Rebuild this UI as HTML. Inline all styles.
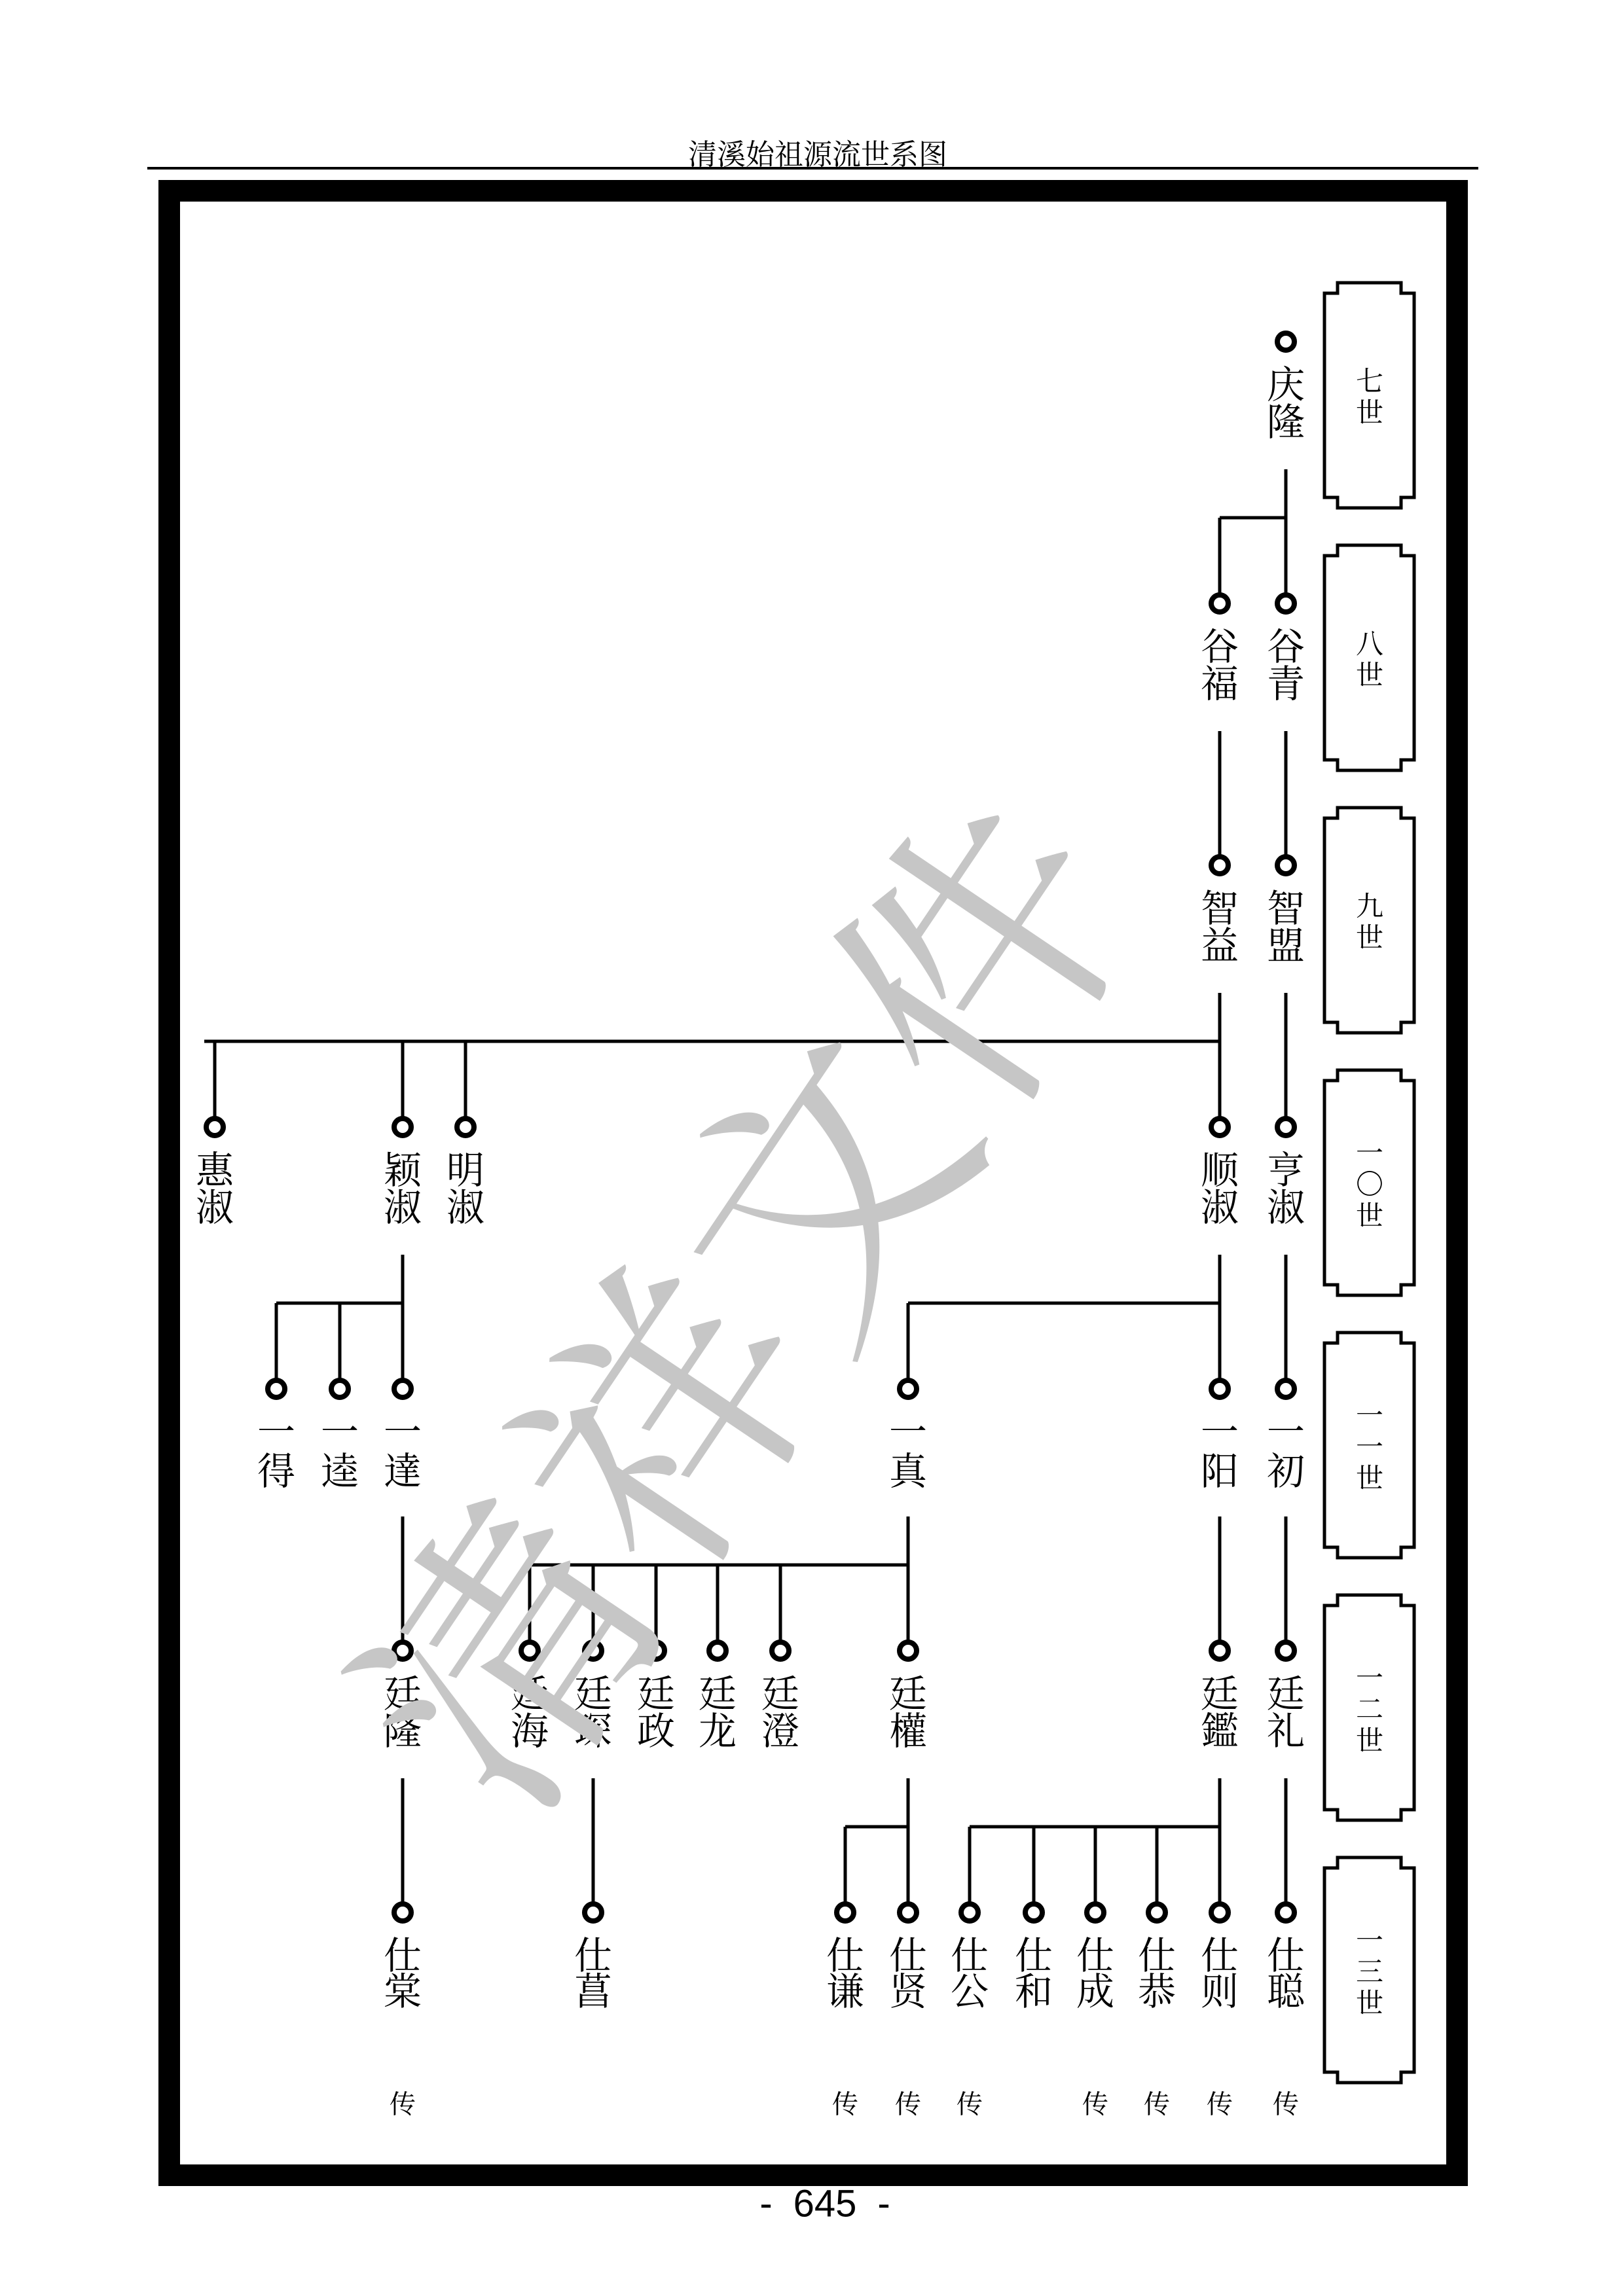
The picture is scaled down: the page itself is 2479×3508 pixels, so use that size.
<!DOCTYPE html>
<html><head><meta charset="utf-8">
<style>
html,body{margin:0;padding:0;background:#fff;}
svg{display:block;}
.n{font-family:"Noto Serif CJK SC","Liberation Serif",serif;font-size:58px;fill:#000;}
.g{font-family:"Noto Serif CJK SC","Liberation Serif",serif;font-size:42px;fill:#000;}
.c{font-family:"Noto Serif CJK SC","Liberation Serif",serif;font-size:40px;fill:#000;}
</style></head>
<body>
<svg width="2479" height="3508" viewBox="0 0 2479 3508" xmlns="http://www.w3.org/2000/svg">
<rect width="2479" height="3508" fill="#fff"/>
<text x="1249" y="232" text-anchor="middle" dominant-baseline="central" style="font-family:'Noto Serif CJK SC','Liberation Serif',serif;font-size:44px">清溪始祖源流世系图</text>
<line x1="225" y1="257" x2="2258" y2="257" stroke="#000" stroke-width="4"/>
<rect x="258.5" y="291.5" width="1967" height="3032" fill="none" stroke="#000" stroke-width="33"/>

<g fill="none" stroke="#000" stroke-width="5">
<path d="M2043,432 H2140 V448 H2160 V760 H2140 V776 H2043 V760 H2023 V448 H2043 Z"/>
<path d="M2043,833 H2140 V849 H2160 V1161 H2140 V1177 H2043 V1161 H2023 V849 H2043 Z"/>
<path d="M2043,1234 H2140 V1250 H2160 V1562 H2140 V1578 H2043 V1562 H2023 V1250 H2043 Z"/>
<path d="M2043,1635 H2140 V1651 H2160 V1963 H2140 V1979 H2043 V1963 H2023 V1651 H2043 Z"/>
<path d="M2043,2036 H2140 V2052 H2160 V2364 H2140 V2380 H2043 V2364 H2023 V2052 H2043 Z"/>
<path d="M2043,2437 H2140 V2453 H2160 V2765 H2140 V2781 H2043 V2765 H2023 V2453 H2043 Z"/>
<path d="M2043,2838 H2140 V2854 H2160 V3166 H2140 V3182 H2043 V3166 H2023 V2854 H2043 Z"/>
</g>
<g class="g" text-anchor="middle" dominant-baseline="central">
<text x="2092" y="580">七</text><text x="2092" y="628">世</text>
<text x="2092" y="981">八</text><text x="2092" y="1029">世</text>
<text x="2092" y="1382">九</text><text x="2092" y="1430">世</text>
<text x="2092" y="1759">一</text><text x="2092" y="1807">〇</text><text x="2092" y="1855">世</text>
<text x="2092" y="2160">一</text><text x="2092" y="2208">一</text><text x="2092" y="2256">世</text>
<text x="2092" y="2561">一</text><text x="2092" y="2609">二</text><text x="2092" y="2657">世</text>
<text x="2092" y="2962">一</text><text x="2092" y="3010">三</text><text x="2092" y="3058">世</text>
</g>

<g stroke="#000" stroke-width="5" fill="none">
<path d="M1964,717 V907 M1863,791 H1964 M1863,791 V907"/>
<path d="M1964,1117 V1307 M1863,1117 V1307"/>
<path d="M1964,1517 V1707 M1863,1517 V1707 M312,1591 H1863 M711,1591 V1707 M615,1591 V1707 M328,1591 V1707"/>
<path d="M1964,1917 V2107 M1863,1917 V2107 M1387,1991 H1863 M1387,1991 V2107 M615,1917 V2107 M422,1991 H615 M519,1991 V2107 M422,1991 V2107"/>
<path d="M1964,2317 V2507 M1863,2317 V2507 M615,2317 V2507 M1387,2317 V2507 M809,2391 H1387 M1192,2391 V2507 M1096,2391 V2507 M1002,2391 V2507 M906,2391 V2507 M809,2391 V2507"/>
<path d="M1964,2717 V2907 M906,2717 V2907 M615,2717 V2907 M1863,2717 V2907 M1481,2791 H1863 M1767,2791 V2907 M1673,2791 V2907 M1579,2791 V2907 M1481,2791 V2907 M1387,2717 V2907 M1291,2791 H1387 M1291,2791 V2907"/>
</g>

<g fill="#fff" stroke="#000" stroke-width="8">
<circle cx="1964" cy="522" r="13"/>
<circle cx="1964" cy="922" r="13"/><circle cx="1863" cy="922" r="13"/>
<circle cx="1964" cy="1322" r="13"/><circle cx="1863" cy="1322" r="13"/>
<circle cx="1964" cy="1722" r="13"/><circle cx="1863" cy="1722" r="13"/><circle cx="711" cy="1722" r="13"/><circle cx="615" cy="1722" r="13"/><circle cx="328" cy="1722" r="13"/>
<circle cx="1964" cy="2122" r="13"/><circle cx="1863" cy="2122" r="13"/><circle cx="1387" cy="2122" r="13"/><circle cx="615" cy="2122" r="13"/><circle cx="519" cy="2122" r="13"/><circle cx="422" cy="2122" r="13"/>
<circle cx="1964" cy="2522" r="13"/><circle cx="1863" cy="2522" r="13"/><circle cx="1387" cy="2522" r="13"/><circle cx="1192" cy="2522" r="13"/><circle cx="1096" cy="2522" r="13"/><circle cx="1002" cy="2522" r="13"/><circle cx="906" cy="2522" r="13"/><circle cx="809" cy="2522" r="13"/><circle cx="615" cy="2522" r="13"/>
<circle cx="1964" cy="2922" r="13"/><circle cx="1863" cy="2922" r="13"/><circle cx="1767" cy="2922" r="13"/><circle cx="1673" cy="2922" r="13"/><circle cx="1579" cy="2922" r="13"/><circle cx="1481" cy="2922" r="13"/><circle cx="1387" cy="2922" r="13"/><circle cx="1291" cy="2922" r="13"/><circle cx="906" cy="2922" r="13"/><circle cx="615" cy="2922" r="13"/>
</g>

<g class="n" text-anchor="middle" dominant-baseline="central">
<text x="1964" y="583">庆</text><text x="1964" y="640">隆</text>
<text x="1964" y="983">谷</text><text x="1964" y="1040">青</text>
<text x="1863" y="983">谷</text><text x="1863" y="1040">福</text>
<text x="1964" y="1383">智</text><text x="1964" y="1440">盟</text>
<text x="1863" y="1383">智</text><text x="1863" y="1440">益</text>
<text x="1964" y="1783">亨</text><text x="1964" y="1840">淑</text>
<text x="1863" y="1783">顺</text><text x="1863" y="1840">淑</text>
<text x="711" y="1783">明</text><text x="711" y="1840">淑</text>
<text x="615" y="1783">颖</text><text x="615" y="1840">淑</text>
<text x="328" y="1783">惠</text><text x="328" y="1840">淑</text>
<text x="1964" y="2183">一</text><text x="1964" y="2243">初</text>
<text x="1863" y="2183">一</text><text x="1863" y="2243">阳</text>
<text x="1387" y="2183">一</text><text x="1387" y="2243">真</text>
<text x="615" y="2183">一</text><text x="615" y="2243">達</text>
<text x="519" y="2183">一</text><text x="519" y="2243">逵</text>
<text x="422" y="2183">一</text><text x="422" y="2243">得</text>
<text x="1964" y="2583">廷</text><text x="1964" y="2640">礼</text>
<text x="1863" y="2583">廷</text><text x="1863" y="2640">鑑</text>
<text x="1387" y="2583">廷</text><text x="1387" y="2640">權</text>
<text x="1192" y="2583">廷</text><text x="1192" y="2640">澄</text>
<text x="1096" y="2583">廷</text><text x="1096" y="2640">龙</text>
<text x="1002" y="2583">廷</text><text x="1002" y="2640">政</text>
<text x="906" y="2583">廷</text><text x="906" y="2640">琛</text>
<text x="809" y="2583">廷</text><text x="809" y="2640">海</text>
<text x="615" y="2583">廷</text><text x="615" y="2640">隆</text>
<text x="1964" y="2983">仕</text><text x="1964" y="3038">聪</text>
<text x="1863" y="2983">仕</text><text x="1863" y="3038">则</text>
<text x="1767" y="2983">仕</text><text x="1767" y="3038">恭</text>
<text x="1673" y="2983">仕</text><text x="1673" y="3038">成</text>
<text x="1579" y="2983">仕</text><text x="1579" y="3038">和</text>
<text x="1481" y="2983">仕</text><text x="1481" y="3038">公</text>
<text x="1387" y="2983">仕</text><text x="1387" y="3038">贤</text>
<text x="1291" y="2983">仕</text><text x="1291" y="3038">谦</text>
<text x="906" y="2983">仕</text><text x="906" y="3038">菖</text>
<text x="615" y="2983">仕</text><text x="615" y="3038">棠</text>
</g>
<g class="c" text-anchor="middle" dominant-baseline="central">
<text x="615" y="3212">传</text><text x="1291" y="3212">传</text><text x="1387" y="3212">传</text><text x="1481" y="3212">传</text>
<text x="1673" y="3212">传</text><text x="1767" y="3212">传</text><text x="1863" y="3212">传</text><text x="1964" y="3212">传</text>
</g>

<text x="1115" y="1975" text-anchor="middle" dominant-baseline="central" transform="rotate(-56 1115 1975)" fill="#c6c6c6" style="font-family:'Noto Serif CJK SC',serif;font-size:430px;font-weight:400">清祥文件</text>

<g style="font-family:'Liberation Sans Narrow','Liberation Sans',sans-serif;font-size:58px" text-anchor="middle" dominant-baseline="central">
<text x="1170" y="3367">-</text><text x="1260" y="3367">645</text><text x="1350" y="3367">-</text>
</g>
</svg>
</body></html>
